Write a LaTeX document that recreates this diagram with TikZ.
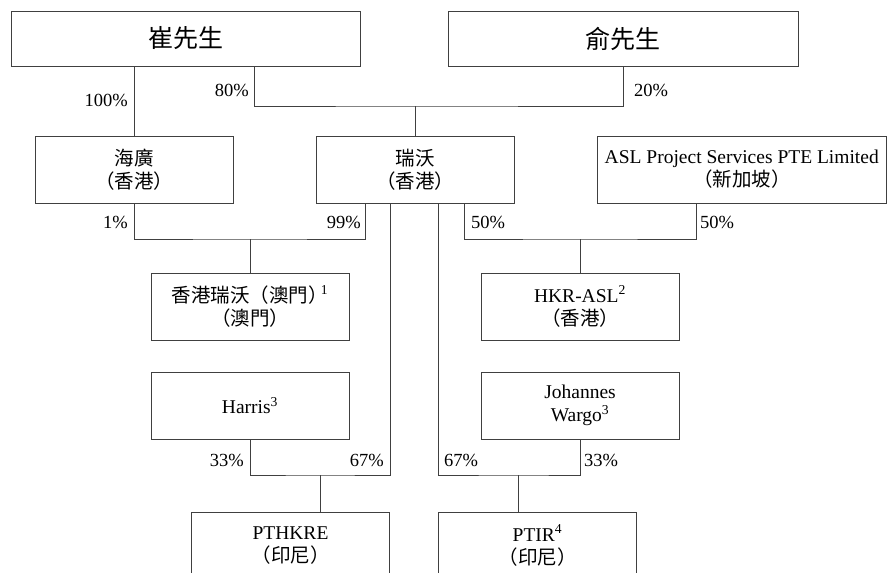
\documentclass[tikz,border=0pt]{standalone}
\usepackage{fontspec}
\setmainfont{Liberation Serif}
\newfontfamily\cjk{Noto Sans CJK TC}
\begin{document}
\begin{tikzpicture}[x=1pt,y=-1pt,
    entity/.style={draw=black!75,line width=1pt,align=center,inner sep=0pt,
      minimum width=198pt,minimum height=67pt,font=\fontsize{19.5}{23}\selectfont},
    owner/.style={entity,minimum height=55pt,font=\fontsize{25}{30}\selectfont\cjk},
    pct/.style={inner sep=0pt,font=\fontsize{18.5}{20}\selectfont},
    link/.style={draw=black!75,line width=1pt}]
    \useasboundingbox (0,0) rectangle (887,573);
    \clip (0,0) rectangle (887,573);
    \node[owner,minimum width=349pt] (cui) at (185.5,38.5) {崔先生};
    \node[owner,minimum width=350pt] (yu) at (623,38.5) {俞先生};
    \node[entity] (haiguang) at (134,169.5) {\cjk 海廣\\\cjk（香港）};
    \node[entity] (ruiwo) at (415,169.5) {\cjk 瑞沃\\\cjk（香港）};
    \node[entity,minimum width=289.5pt] (asl) at (741.75,169.5) {ASL Project Services PTE Limited\\\cjk（新加坡）};
    \node[entity] (hkmacau) at (250,306.5) {{\cjk 香港瑞沃（澳門）}\kern-7pt\textsuperscript{1}\\\cjk（澳門）};
    \node[entity] (hkrasl) at (580,306.5) {HKR-ASL\textsuperscript{2}\\\cjk（香港）};
    \node[entity] (harris) at (250,405.5) {Harris\textsuperscript{3}};
    \node[entity] (johannes) at (580,405.5) {Johannes\\Wargo\textsuperscript{3}};
    \node[entity] (pthkre) at (290.5,545.5) {PTHKRE\\\cjk（印尼）};
    \node[entity] (ptir) at (537.5,545.5) {PTIR\textsuperscript{4}\\\cjk（印尼）};
    \coordinate (jtop) at (415,106);
    \coordinate (jmac) at (250,239);
    \coordinate (jasl) at (580,239);
    \coordinate (jpt) at (320,475);
    \coordinate (jir) at (518,475);
    \draw[link] (haiguang.north |- cui.south) -- (haiguang.north);
    \draw[link] ([xshift=68.5pt]cui.south) |- (jtop) -| (yu.south);
    \draw[link] (ruiwo.north) -- (jtop);
    \draw[link] (haiguang.south) |- (jmac) -| ([xshift=-49.5pt]ruiwo.south);
    \draw[link] (hkmacau.north) -- (jmac);
    \draw[link] ([xshift=49pt]ruiwo.south) |- (jasl) -| ([xshift=-45.75pt]asl.south);
    \draw[link] (hkrasl.north) -- (jasl);
    \draw[link] (harris.south) |- (jpt) -| ([xshift=-25pt]ruiwo.south);
    \draw[link] (jpt) -- (jpt |- pthkre.north);
    \draw[link] (johannes.south) |- (jir) -| ([xshift=23pt]ruiwo.south);
    \draw[link] (jir) -- (jir |- ptir.north);
    \node[pct,anchor=east] (p100) at (128,100) {100\%};
    \node[pct,anchor=east] (p80) at (249,90) {80\%};
    \node[pct,anchor=west] (p20) at (634,90) {20\%};
    \node[pct,anchor=east] (p1) at (128,222) {1\%};
    \node[pct,anchor=east] (p99) at (361,222) {99\%};
    \node[pct,anchor=west] (p50a) at (471,222) {50\%};
    \node[pct,anchor=west] (p50b) at (700,222) {50\%};
    \node[pct,anchor=east] (p33a) at (244,460) {33\%};
    \node[pct,anchor=east] (p67a) at (384,460) {67\%};
    \node[pct,anchor=west] (p67b) at (444,460) {67\%};
    \node[pct,anchor=west] (p33b) at (584,460) {33\%};
\end{tikzpicture}
\end{document}
